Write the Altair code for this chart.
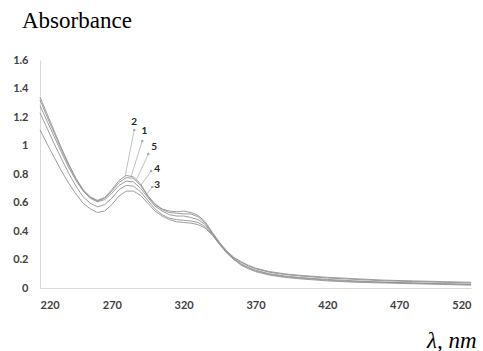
import altair as alt
import pandas as pd

# wavelength grid (nm)
wavelength = [220, 225, 230, 235, 240, 245, 250, 255, 260, 265, 270, 275, 280, 285, 290,
              295, 300, 305, 310, 315, 320, 325, 330, 335, 340, 345, 350, 355, 360, 365,
              370, 380, 390, 400, 420, 440, 460, 480, 500, 520]

s2 = [1.34, 1.22, 1.10, 0.98, 0.87, 0.77, 0.69, 0.64, 0.615, 0.635, 0.69, 0.755, 0.79, 0.78, 0.73,
      0.65, 0.59, 0.555, 0.54, 0.535, 0.54, 0.53, 0.51, 0.465, 0.39, 0.32, 0.26, 0.215, 0.185, 0.16,
      0.14, 0.115, 0.10, 0.09, 0.075, 0.065, 0.055, 0.05, 0.045, 0.04]
s1 = [1.32, 1.20, 1.085, 0.97, 0.86, 0.765, 0.685, 0.635, 0.61, 0.63, 0.68, 0.74, 0.775, 0.77, 0.72,
      0.645, 0.585, 0.55, 0.53, 0.525, 0.52, 0.52, 0.5, 0.455, 0.385, 0.315, 0.255, 0.21, 0.18, 0.155,
      0.135, 0.11, 0.095, 0.085, 0.07, 0.06, 0.05, 0.045, 0.04, 0.035]
s5 = [1.28, 1.17, 1.06, 0.95, 0.845, 0.755, 0.68, 0.63, 0.605, 0.62, 0.665, 0.72, 0.75, 0.745, 0.70,
      0.635, 0.575, 0.54, 0.515, 0.505, 0.505, 0.495, 0.48, 0.445, 0.38, 0.31, 0.25, 0.205, 0.17, 0.145,
      0.125, 0.10, 0.085, 0.075, 0.06, 0.05, 0.04, 0.035, 0.03, 0.025]
s4 = [1.23, 1.12, 1.01, 0.905, 0.805, 0.715, 0.64, 0.595, 0.57, 0.585, 0.63, 0.69, 0.72, 0.715, 0.675,
      0.615, 0.555, 0.515, 0.49, 0.48, 0.475, 0.47, 0.46, 0.43, 0.375, 0.31, 0.25, 0.2, 0.165, 0.14,
      0.12, 0.095, 0.08, 0.07, 0.055, 0.045, 0.04, 0.035, 0.03, 0.025]
s3 = [1.11, 1.01, 0.915, 0.82, 0.735, 0.66, 0.595, 0.555, 0.53, 0.54, 0.585, 0.645, 0.68, 0.68, 0.65,
      0.595, 0.54, 0.505, 0.48, 0.465, 0.46, 0.455, 0.445, 0.42, 0.37, 0.305, 0.245, 0.2, 0.16, 0.135,
      0.115, 0.09, 0.075, 0.065, 0.05, 0.04, 0.035, 0.03, 0.025, 0.02]

series = {"2": s2, "1": s1, "5": s5, "4": s4, "3": s3}

# curve labels with leader lines
lab_names = ["2", "1", "5", "4", "3"]
lab_x = [285.6, 292.6, 299.5, 301.6, 301.6]
lab_y = [1.165, 1.102, 0.989, 0.835, 0.723]
dot_x = [285.6, 291.2, 295.4, 297.4, 298.1]
dot_y = [1.109, 1.032, 0.940, 0.821, 0.709]
end_x = [279.3, 283.5, 287.0, 289.8, 294.0]
end_y = [0.786, 0.786, 0.758, 0.716, 0.653]

x_ticks = [220, 270, 320, 370, 420, 470, 520]
y_ticks = [0, 0.2, 0.4, 0.6, 0.8, 1, 1.2, 1.4, 1.6]
y_title = "Absorbance"

rows = []
for name, vals in series.items():
    for w, v in zip(wavelength, vals):
        rows.append({"series": name, "wl": w, "abs": v})
df = pd.DataFrame(rows)

ann = pd.DataFrame({"label": lab_names, "lx": lab_x, "ly": lab_y,
                    "dx": dot_x, "dy": dot_y, "ex": end_x, "ey": end_y})

xscale = alt.Scale(domain=[220, 520], nice=False, zero=False)
yscale = alt.Scale(domain=[0, 1.6], nice=False)

serif = "Liberation Serif"

xaxis = alt.Axis(values=x_ticks, title="λ, nm", labelPadding=11, labelOverlap=False)
yaxis = alt.Axis(values=y_ticks, format="~g", title=None, labelPadding=12,
                 labelOverlap=False)

lines = alt.Chart(df).mark_line(color="#929292", strokeWidth=0.9).encode(
    x=alt.X("wl:Q", scale=xscale, axis=xaxis),
    y=alt.Y("abs:Q", scale=yscale, axis=yaxis),
    detail="series:N",
)

leaders = alt.Chart(ann).mark_rule(color="#a6a6a6", strokeWidth=0.7).encode(
    x=alt.X("ex:Q", scale=xscale, axis=xaxis), y=alt.Y("ey:Q", scale=yscale, axis=yaxis),
    x2="dx:Q", y2="dy:Q"
)
dots = alt.Chart(ann).mark_point(filled=True, color="#a6a6a6", size=6, opacity=1).encode(
    x=alt.X("dx:Q", scale=xscale, axis=xaxis), y=alt.Y("dy:Q", scale=yscale, axis=yaxis)
)
texts = alt.Chart(ann).mark_text(font="Lato", fontWeight="bold", fontSize=10,
                                 color="#262626", align="center", baseline="middle").encode(
    x=alt.X("lx:Q", scale=xscale, axis=xaxis), y=alt.Y("ly:Q", scale=yscale, axis=yaxis),
    text="label:N"
)

# y-axis title placed above the axis, as in the reference
ytitle = alt.Chart(pd.DataFrame({"t": [y_title]})).mark_text(
    font=serif, fontSize=23, fontWeight="normal", fontStyle="normal", color="#000000",
    align="left", baseline="alphabetic"
).encode(x=alt.value(-18), y=alt.value(-32), text="t:N")

chart = alt.layer(lines, leaders, dots, texts, ytitle).properties(
    width=431, height=228,
    autosize=alt.AutoSizeParams(type="none"),
    padding={"left": 40, "top": 60, "right": 12, "bottom": 63},
    background="white",
).configure_view(stroke=None).configure_axis(
    grid=False, ticks=False, tickSize=0, domainColor="#d9d9d9", domainWidth=1,
    labelFont="Lato", labelFontWeight="bold", labelFontSize=11, labelColor="#404040",
    titleFont=serif, titleFontSize=23, titleFontWeight="normal", titleColor="#000000",
).configure_axisX(
    titleFontStyle="italic", titleX=436, titleY=59, titleAlign="right",
    titleBaseline="alphabetic", titleAnchor="start",
)

chart.save("out.html", embed_options={"renderer": "svg", "actions": False})
